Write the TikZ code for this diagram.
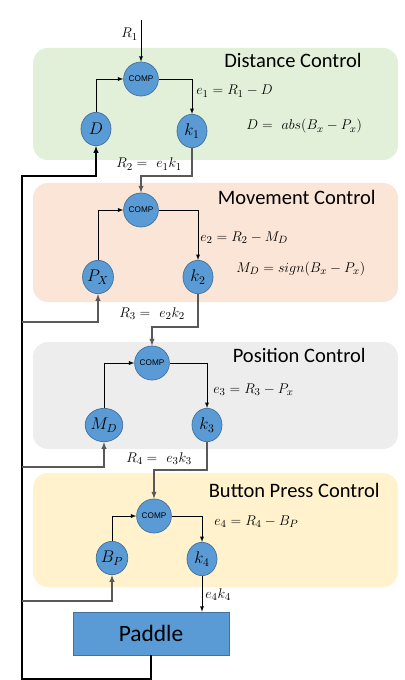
\documentclass[tikz,border=0pt]{standalone}
\usepackage{fontspec}
\newfontfamily\calibri{Carlito}
\newfontfamily\arialfont{Liberation Sans}
\usepackage{tikz}
\usetikzlibrary{calc, arrows.meta, positioning, shapes.geometric}

\definecolor{blockblue}{HTML}{5B9BD5}
\definecolor{edgeblue}{HTML}{41719C}
\definecolor{bggreen}{HTML}{E2F0D9}
\definecolor{bgorange}{HTML}{FBE5D6}
\definecolor{bggray}{HTML}{EDEDED}
\definecolor{bgyellow}{HTML}{FFF2CC}

\begin{document}
\begin{tikzpicture}[auto, >=latex, x=0.03cm, y=-0.03cm, line width=0.6pt]
				\tikzstyle{round} = [draw=edgeblue, fill=blockblue, ellipse, inner sep=0pt, minimum width=0.9cm, minimum height=1cm, font=\fontsize{14}{16}\selectfont]
				\tikzstyle{comp} = [round, minimum width=0.87cm, minimum height=1.02cm, font=\arialfont\fontsize{7}{8}\selectfont]
				\tikzstyle{invis} = [draw=none, inner sep=0pt, anchor=base west, font=\fontsize{13}{15}\selectfont]
				\tikzstyle{title} = [draw=none, inner sep=0pt, anchor=base east, font=\calibri\fontsize{17.5}{20}\selectfont]
				\tikzstyle{panel} = [rounded corners=0.45cm]
				\tikzstyle{link} = [draw=black!65, line width=1pt]
				\tikzstyle{back} = [draw=black, line width=1pt]
				
				\useasboundingbox (0, 0) rectangle (405, 680);
				
				\fill[panel, bggreen] 	(33, 48) 	rectangle (398, 160);
				\fill[panel, bgorange] 	(33, 183) 	rectangle (398, 302);
				\fill[panel, bggray] 	(33, 342) 	rectangle (398, 449);
				\fill[panel, bgyellow] 	(33, 473) 	rectangle (398, 587);
				
				\node[title] 	at (362, 68) 		(t1) 	{Distance Control};
				\node[title] 	at (376, 205) 		(t2) 	{Movement Control};
				\node[title] 	at (366, 362) 		(t3) 	{Position Control};
				\node[title] 	at (380, 497) 		(t4) 	{Button Press Control};
				
				\node[comp] 	at (141, 79) 		(c1) 	{COMP};
				\node[round] 	at (96, 129) 		(d) 	{$D$};
				\node[round] 	at (192, 131) 		(k1) 	{$k_1$};
				
				\node[comp] 	at (141, 210) 		(c2) 	{COMP};
				\node[round] 	at (98, 277) 		(px) 	{$P_X$};
				\node[round] 	at (198, 277) 		(k2) 	{$k_2$};
				
				\node[comp] 	at (152, 363) 		(c3) 	{COMP};
				\node[round] 	at (104, 425) 		(md) 	{$M_D$};
				\node[round] 	at (207, 425) 		(k3) 	{$k_3$};
				
				\node[comp] 	at (154, 516) 		(c4) 	{COMP};
				\node[round] 	at (112, 558) 		(bp) 	{$B_P$};
				\node[round] 	at (202, 559) 		(k4) 	{$k_4$};
				
				\node[draw=edgeblue, fill=blockblue, minimum width=4.68cm, minimum height=1.29cm, font=\calibri\fontsize{20}{24}\selectfont] at (151, 633.5) (paddle) {Paddle};
				
				\node[invis] 	at (121, 38) 		(r1) 	{$R_1$};
				\node[invis] 	at (196, 95) 		(e1) 	{$e_1 = R_1 - D$};
				\node[invis] 	at (246, 130) 		(dd) 	{$D =\ abs(B_x - P_x)$};
				\node[invis] 	at (116, 168) 		(r2) 	{$R_2 =\ e_1k_1$};
				\node[invis] 	at (200, 241) 		(e2) 	{$e_2 = R_2 - M_D$};
				\node[invis] 	at (236, 272) 		(mm) 	{$M_D = sign(B_x - P_x)$};
				\node[invis] 	at (119, 317) 		(r3) 	{$R_3 =\ e_2k_2$};
				\node[invis] 	at (213, 393) 		(e3) 	{$e_3 = R_3 - P_x$};
				\node[invis] 	at (126, 462) 		(r4) 	{$R_4 =\ e_3k_3$};
				\node[invis] 	at (214, 525) 		(e4) 	{$e_4 = R_4 - B_P$};
				\node[invis] 	at (205, 598) 		(ek) 	{$e_4k_4$};
				
				\coordinate (in) 	at (141, 20);
				\coordinate (j1) 	at (141, 176);
				\coordinate (j2) 	at (152, 327);
				\coordinate (j3) 	at (154, 470);
				\coordinate (fbBot) at (22, 679);
				\coordinate (fbTop) at (22, 176);
				\coordinate (fb2) 	at (22, 322);
				\coordinate (fb3) 	at (22, 467);
				\coordinate (fb4) 	at (22, 601);
				
				\draw[->] (in) -- (c1);
				\draw[->] (d) |- (c1);
				\draw[->] (c1) -| (k1);
				\draw[->, link] (k1) |- (j1) -- (c2);
				\draw[->] (px) |- (c2);
				\draw[->] (c2) -| (k2);
				\draw[->, link] (k2) |- (j2) -- (c3);
				\draw[->] (md) |- (c3);
				\draw[->] (c3) -| (k3);
				\draw[->, link] (k3) |- (j3) -- (c4);
				\draw[->] (bp) |- (c4);
				\draw[->] (c4) -| (k4);
				\draw[->] (k4) -- (k4 |- paddle.north);
				
				\draw[->, back] (paddle) |- (fbBot) -- (fbTop) -| (d);
				\draw[->, link] (fb2) -| (px);
				\draw[->, link] (fb3) -| (md);
				\draw[->, link] (fb4) -| (bp);
\end{tikzpicture}
\end{document}
